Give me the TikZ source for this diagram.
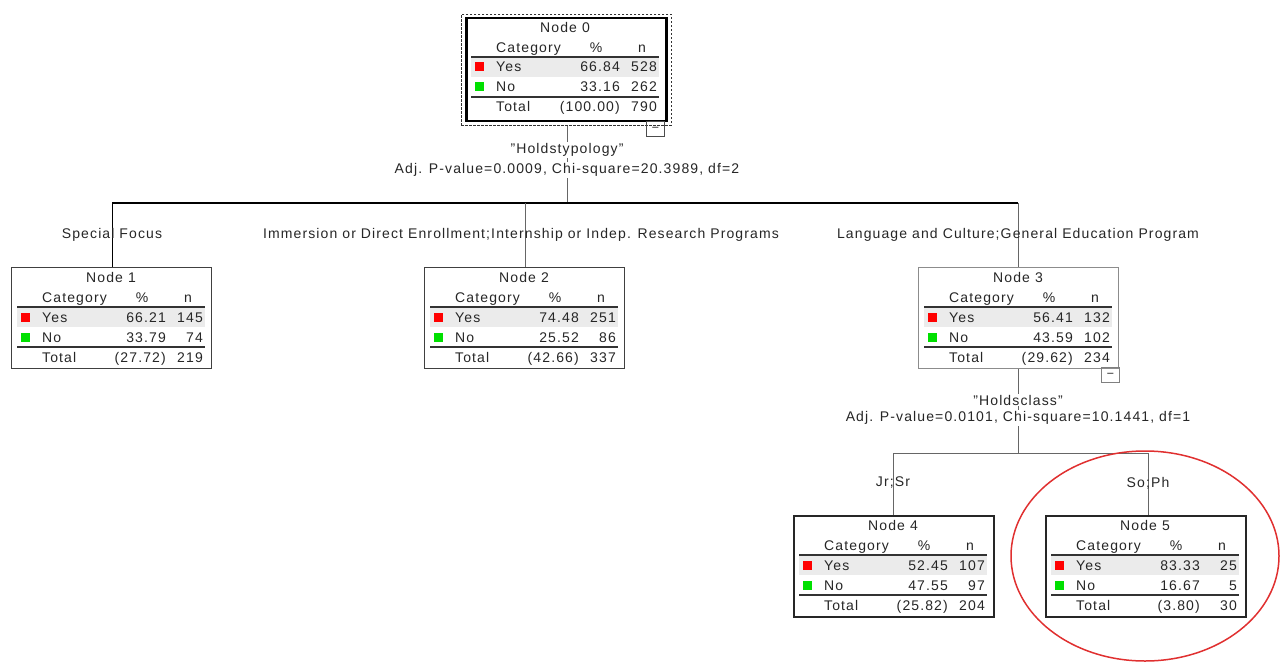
\documentclass[tikz,border=0pt]{standalone}
\usepackage{fontspec}
\setmainfont{Liberation Sans}[LetterSpace=8]
\definecolor{yesred}{HTML}{FF0000}
\definecolor{nogreen}{HTML}{00E000}
\definecolor{rowgray}{HTML}{EBEBEB}
\definecolor{circred}{HTML}{E03030}
\newcommand{\ctrows}[8]{%
 \fill[rowgray] ([shift={(6,40)}]#1.north west) rectangle ([shift={(194,60)}]#1.north west);
 \draw[sepline] ([shift={(6,40)}]#1.north west) -- ([shift={(194,40)}]#1.north west);
 \draw[sepline] ([shift={(6,80)}]#1.north west) -- ([shift={(194,80)}]#1.north west);
 \node[txt,anchor=base] (#1-title) at ([shift={(100,15.5)}]#1.north west) {#2};
 \node[txt,anchor=base west] (#1-cat) at ([shift={(31,35.5)}]#1.north west) {Category};
 \node[txt,anchor=base] (#1-pct) at ([shift={(131,35.5)}]#1.north west) {\%};
 \node[txt,anchor=base] (#1-n) at ([shift={(177,35.5)}]#1.north west) {n};
 \node[sqr,fill=yesred] (#1-ysq) at ([shift={(14,50)}]#1.north west) {};
 \node[txt,anchor=base west] (#1-y) at ([shift={(31,55)}]#1.north west) {Yes};
 \node[txt,anchor=base east] (#1-yp) at ([shift={(155,55)}]#1.north west) {#3};
 \node[txt,anchor=base east] (#1-yn) at ([shift={(192,55)}]#1.north west) {#4};
 \node[sqr,fill=nogreen] (#1-nsq) at ([shift={(14,70)}]#1.north west) {};
 \node[txt,anchor=base west] (#1-no) at ([shift={(31,75)}]#1.north west) {No};
 \node[txt,anchor=base east] (#1-np) at ([shift={(155,75)}]#1.north west) {#5};
 \node[txt,anchor=base east] (#1-nn) at ([shift={(192,75)}]#1.north west) {#6};
 \node[txt,anchor=base west] (#1-tot) at ([shift={(31,95)}]#1.north west) {Total};
 \node[txt,anchor=base east] (#1-tp) at ([shift={(155,95)}]#1.north west) {#7};
 \node[txt,anchor=base east] (#1-tn) at ([shift={(192,95)}]#1.north west) {#8};
}
\begin{document}
\begin{tikzpicture}[x=1pt,y=-1pt,
  txt/.style={font=\fontsize{14}{16}\selectfont, inner sep=0pt, text=black!85},
  sqr/.style={minimum size=9pt, inner sep=0pt, draw=none},
  sepline/.style={draw=black!80, line width=1.2pt},
  box/.style={rectangle, anchor=north west, minimum width=200pt, minimum height=101pt, inner sep=0pt},
  boxzero/.style={box, draw=black, line width=2.5pt, minimum height=103pt},
  boxmid/.style={box, draw=black!75, line width=1.2pt},
  boxlight/.style={box, draw=black!45, line width=1.2pt},
  boxdark/.style={box, draw=black!85, line width=1.6pt},
  toggle/.style={draw=black!70, line width=1pt, minimum width=18pt, minimum height=15pt, inner sep=0pt, anchor=north east, font=\fontsize{11}{12}\selectfont},
  conn/.style={draw=black!60, line width=1pt},
  mainline/.style={draw=black, line width=1.5pt},
  splitlbl/.style={txt, fill=white, inner sep=1pt},
  branchlbl/.style={txt}]
\useasboundingbox (0,0) rectangle (1281,663);

% boxes
\node[boxzero] (n0) at (465,17) {};
\node[draw=black!80, dash pattern=on 2.5pt off 1.5pt, line width=1pt, minimum width=210pt, minimum height=111pt, inner sep=0pt] (n0-sel) at (n0.center) {};
\node[toggle] (n0-tog) at (665,121) {--};
\node[boxmid] (n1) at (11,267) {};
\node[boxmid] (n2) at (424,267) {};
\node[boxlight] (n3) at (918,267) {};
\node[toggle, draw=black!50] (n3-tog) at (1120,367) {--};
\node[boxdark] (n4) at (793,515) {};
\node[boxdark] (n5) at (1045,515) {};

% connectors
\coordinate (j0) at (567,203);
\coordinate (bL) at (112,203);
\coordinate (bM) at (525,203);
\coordinate (bR) at (1018,203);
\coordinate (j3) at (1018,453);
\coordinate (c4) at (893,453);
\coordinate (c5) at (1148,453);
\draw[conn] (n0-sel.south -| j0) -- (j0);
\draw[mainline] (bL) -- (bR);
\draw[conn, draw=black] (bL) -- (n1.north -| bL);
\draw[conn] (bM) -- (n2.north -| bM);
\draw[conn] (bR) -- (n3.north -| bR);
\draw[conn] (n3.south -| j3) -- (j3);
\draw[conn] (c4) -- (c5);
\draw[conn] (c4) -- (n4.north -| c4);
\draw[conn] (c5) -- (n5.north -| c5);

% split labels
\node[splitlbl] (s0a) at (567,150) {"Holdstypology"};
\node[splitlbl] (s0b) at (567,170) {Adj. P-value=0.0009, Chi-square=20.3989, df=2};
\node[splitlbl] (s3a) at (1018,400) {"Holdsclass"};
\node[splitlbl] (s3b) at (1018,418) {Adj. P-value=0.0101, Chi-square=10.1441, df=1};

% branch labels
\node[branchlbl] (l1) at (112,235) {Special Focus};
\node[branchlbl] (l2) at (521,235) {Immersion or Direct Enrollment;Internship or Indep. Research Programs};
\node[branchlbl] (l3) at (1018,235) {Language and Culture;General Education Program};
\node[branchlbl] (l4) at (893,483) {Jr;Sr};
\node[branchlbl] (l5) at (1148,483) {So;Ph};

% contents
\ctrows{n0}{Node 0}{66.84}{528}{33.16}{262}{(100.00)}{790}
\ctrows{n1}{Node 1}{66.21}{145}{33.79}{74}{(27.72)}{219}
\ctrows{n2}{Node 2}{74.48}{251}{25.52}{86}{(42.66)}{337}
\ctrows{n3}{Node 3}{56.41}{132}{43.59}{102}{(29.62)}{234}
\ctrows{n4}{Node 4}{52.45}{107}{47.55}{97}{(25.82)}{204}
\ctrows{n5}{Node 5}{83.33}{25}{16.67}{5}{(3.80)}{30}

% highlight
\draw[circred, line width=1.5pt] (1145,556) ellipse [x radius=134, y radius=105];
\end{tikzpicture}
\end{document}
